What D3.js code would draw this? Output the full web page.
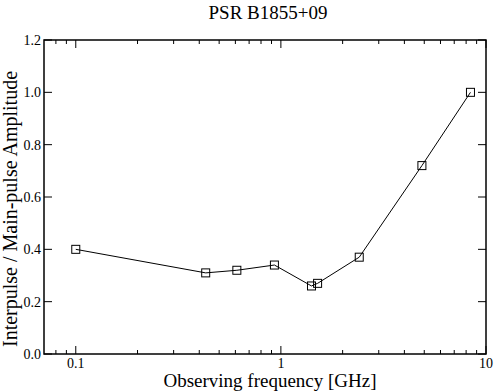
<!DOCTYPE html>
<html><head><meta charset="utf-8">
<script src="https://cdn.jsdelivr.net/npm/d3@7"></script>
<style>body{margin:0;background:#fff}svg{display:block}text{font-family:"Liberation Serif","Times New Roman",serif;fill:#000}</style>
</head><body>
<svg id="c" width="495" height="391"></svg>
<script>
const freqs = [0.1, 0.43, 0.61, 0.93, 1.41, 1.51, 2.41, 4.87, 8.4];
const ratios = [0.40, 0.31, 0.32, 0.34, 0.26, 0.27, 0.37, 0.72, 1.00];
const xMajor = [0.1, 1, 10];
const xMajorLabels = ["0.1", "1", "10"];
const xMinor = [0.08,0.09,0.2,0.3,0.4,0.5,0.6,0.7,0.8,0.9,2,3,4,5,6,7,8,9];
const yTicks = [0, 0.2, 0.4, 0.6, 0.8, 1.0, 1.2];
const title = "PSR B1855+09";
const xTitle = "Observing frequency [GHz]";
const yTitle = "Interpulse / Main-pulse Amplitude";

const svg = d3.select("#c");
const L = 44, R = 486, T = 40, B = 354;
const x = d3.scaleLog().domain([0.07, 10]).range([L, R]);
const y = d3.scaleLinear().domain([0, 1.2]).range([B, T]);

const g = svg.append("g");
// frame
g.append("rect").attr("x", L).attr("y", T).attr("width", R - L).attr("height", B - T)
  .attr("fill", "none").attr("stroke", "#000").attr("stroke-width", 1.5);

const tk = g.append("g").attr("stroke", "#000").attr("stroke-width", 1);
// x ticks (bottom & top, inward)
xMajor.forEach(v => {
  tk.append("line").attr("x1", x(v)).attr("x2", x(v)).attr("y1", B).attr("y2", B - 8);
  tk.append("line").attr("x1", x(v)).attr("x2", x(v)).attr("y1", T).attr("y2", T + 8);
});
xMinor.forEach(v => {
  tk.append("line").attr("x1", x(v)).attr("x2", x(v)).attr("y1", B).attr("y2", B - 4);
  tk.append("line").attr("x1", x(v)).attr("x2", x(v)).attr("y1", T).attr("y2", T + 4);
});
// y ticks (left & right, inward)
yTicks.forEach(v => {
  tk.append("line").attr("x1", L).attr("x2", L + 8).attr("y1", y(v)).attr("y2", y(v));
  tk.append("line").attr("x1", R).attr("x2", R - 8).attr("y1", y(v)).attr("y2", y(v));
});

// tick labels
xMajor.forEach((v, i) => {
  g.append("text").attr("x", x(v)).attr("y", B + 14).attr("text-anchor", "middle")
    .attr("font-size", 14).text(xMajorLabels[i]);
});
yTicks.forEach(v => {
  g.append("text").attr("x", L - 3).attr("y", y(v) + 5).attr("text-anchor", "end")
    .attr("font-size", 14).text(d3.format(".1f")(v));
});

// titles
svg.append("text").attr("x", 268).attr("y", 19).attr("text-anchor", "middle")
  .attr("font-size", 19).text(title);
svg.append("text").attr("x", 270).attr("y", 387).attr("text-anchor", "middle")
  .attr("font-size", 19).text(xTitle);
svg.append("text").attr("transform", `translate(16.5,209) rotate(-90)`)
  .attr("text-anchor", "middle").attr("font-size", 20).text(yTitle);

// data
const pts = freqs.map((f, i) => [f, ratios[i]]);
g.append("path").datum(pts)
  .attr("d", d3.line().x(d => x(d[0])).y(d => y(d[1])))
  .attr("fill", "none").attr("stroke", "#000").attr("stroke-width", 1);
g.selectAll("rect.m").data(pts).join("rect").attr("class", "m")
  .attr("x", d => x(d[0]) - 4).attr("y", d => y(d[1]) - 4)
  .attr("width", 8).attr("height", 8)
  .attr("fill", "none").attr("stroke", "#000").attr("stroke-width", 1);
</script>
</body></html>
